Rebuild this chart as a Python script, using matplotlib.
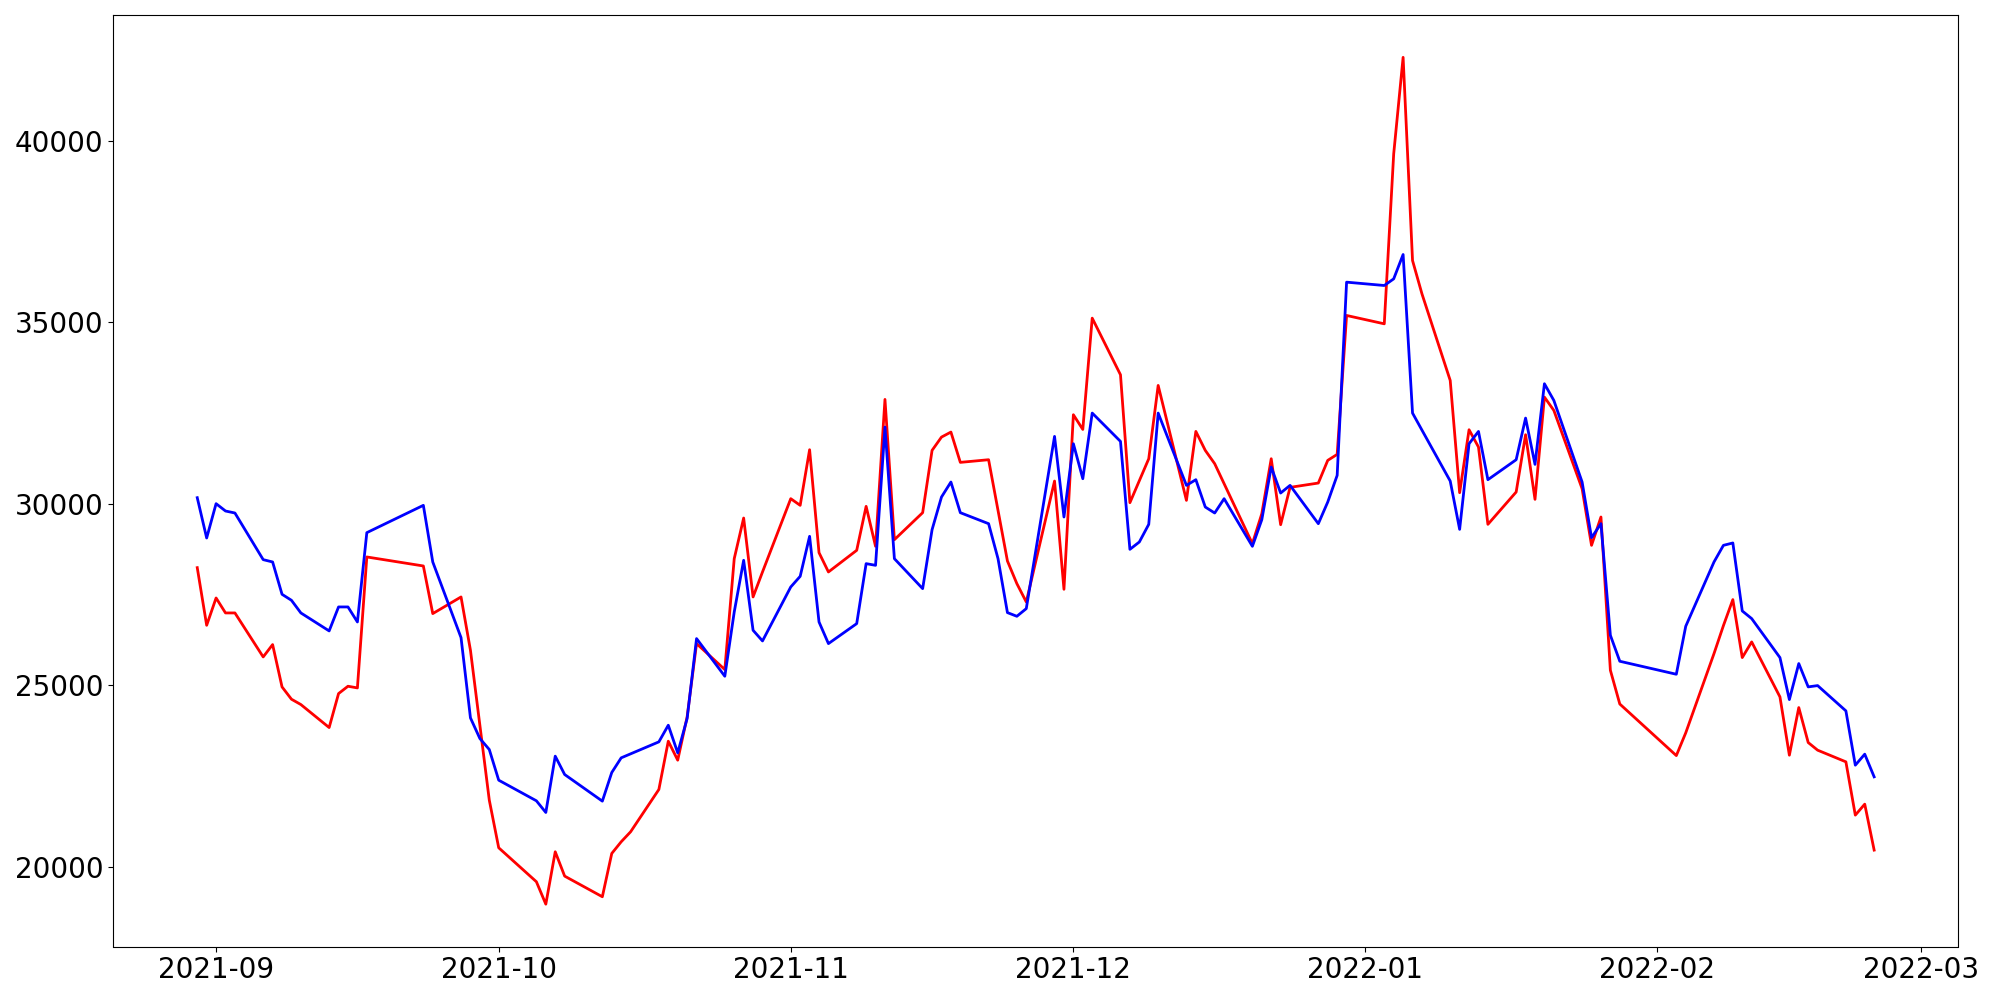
import matplotlib
matplotlib.use("Agg")
import matplotlib.pyplot as plt
import pandas as pd

# KRX trading calendar, 2021-08-30 .. 2022-02-24
MARKET_HOLIDAYS = [
    "2021-09-20", "2021-09-21", "2021-09-22",  # Chuseok
    "2021-10-04", "2021-10-11",                # substitute holidays
    "2021-12-31",                              # year-end closing
    "2022-01-31", "2022-02-01", "2022-02-02",  # Seollal
]
dates = pd.bdate_range("2021-08-30", "2022-02-24", freq="C", holidays=MARKET_HOLIDAYS)

# values
red_values = [
    28244, 26657, 27409, 26997, 26997, 25786, 26126, 24961, 24622, 24475,
    23842, 24777, 24979, 24933, 28538, 28290, 26979, 27437, 25970, 23906,
    21843, 20532, 19597, 18980, 20422, 19752, 19184, 20376, 20697, 20972,
    22137, 23466, 22944, 24136, 26153, 25438, 28491, 29610, 27437, 28125,
    30142, 29959, 31490, 28656, 28125, 28721, 29931, 28831, 32875, 29014,
    29757, 31472, 31838, 31976, 31142, 31215, 29820, 28427, 27804, 27299,
    30628, 27648, 32453, 32049, 35112, 33553, 30032, 30637, 31242, 33260,
    30096, 31994, 31472, 31105, 30555, 28904, 29729, 31242, 29426, 30454,
    30573, 31197, 31362, 35186, 34956, 39633, 42292, 36699, 35781, 33397,
    30307, 32040, 31564, 29436, 30326, 31903, 30124, 32939, 32572, 30417,
    28858, 29638, 25419, 24490, 23070, 23696, 25878, 26648, 27364, 25768,
    26199, 24686, 23081, 24392, 23429, 23219, 22898, 21431, 21733, 20468,
]
blue_values = [
    30170, 29060, 30005, 29803, 29748, 28464, 28400, 27510, 27345, 26997,
    26502, 27162, 27162, 26749, 29207, 29959, 28400, 26318, 24108, 23540,
    23237, 22393, 21825, 21504, 23054, 22549, 21816, 22604, 23008, 23118,
    23448, 23906, 23146, 24090, 26291, 25254, 27024, 28446, 26520, 26226,
    27712, 28005, 29106, 26749, 26153, 26703, 28354, 28308, 32114, 28491,
    27666, 29289, 30188, 30601, 29757, 29454, 28491, 27006, 26905, 27116,
    31857, 29638, 31655, 30692, 32499, 31719, 28748, 28950, 29436, 32499,
    30509, 30665, 29913, 29748, 30142, 28831, 29564, 31013, 30298, 30509,
    29454, 30050, 30784, 36103, 36011, 36194, 36864, 32499, 32030, 30628,
    29298, 31655, 31994, 30665, 31215, 32361, 31087, 33306, 32847, 30601,
    29069, 29454, 26382, 25667, 25309, 26630, 28400, 28858, 28923, 27052,
    26841, 25768, 24612, 25603, 24961, 24997, 24301, 22806, 23109, 22485,
]

fig, ax = plt.subplots(figsize=(20, 10), dpi=100)
ax.plot(dates, red_values, color="red", linewidth=2)
ax.plot(dates, blue_values, color="blue", linewidth=2)

ax.tick_params(axis="both", labelsize=20)
fig.subplots_adjust(left=0.0567, right=0.979, bottom=0.0535, top=0.985)
fig.savefig("out.png", dpi=100)
